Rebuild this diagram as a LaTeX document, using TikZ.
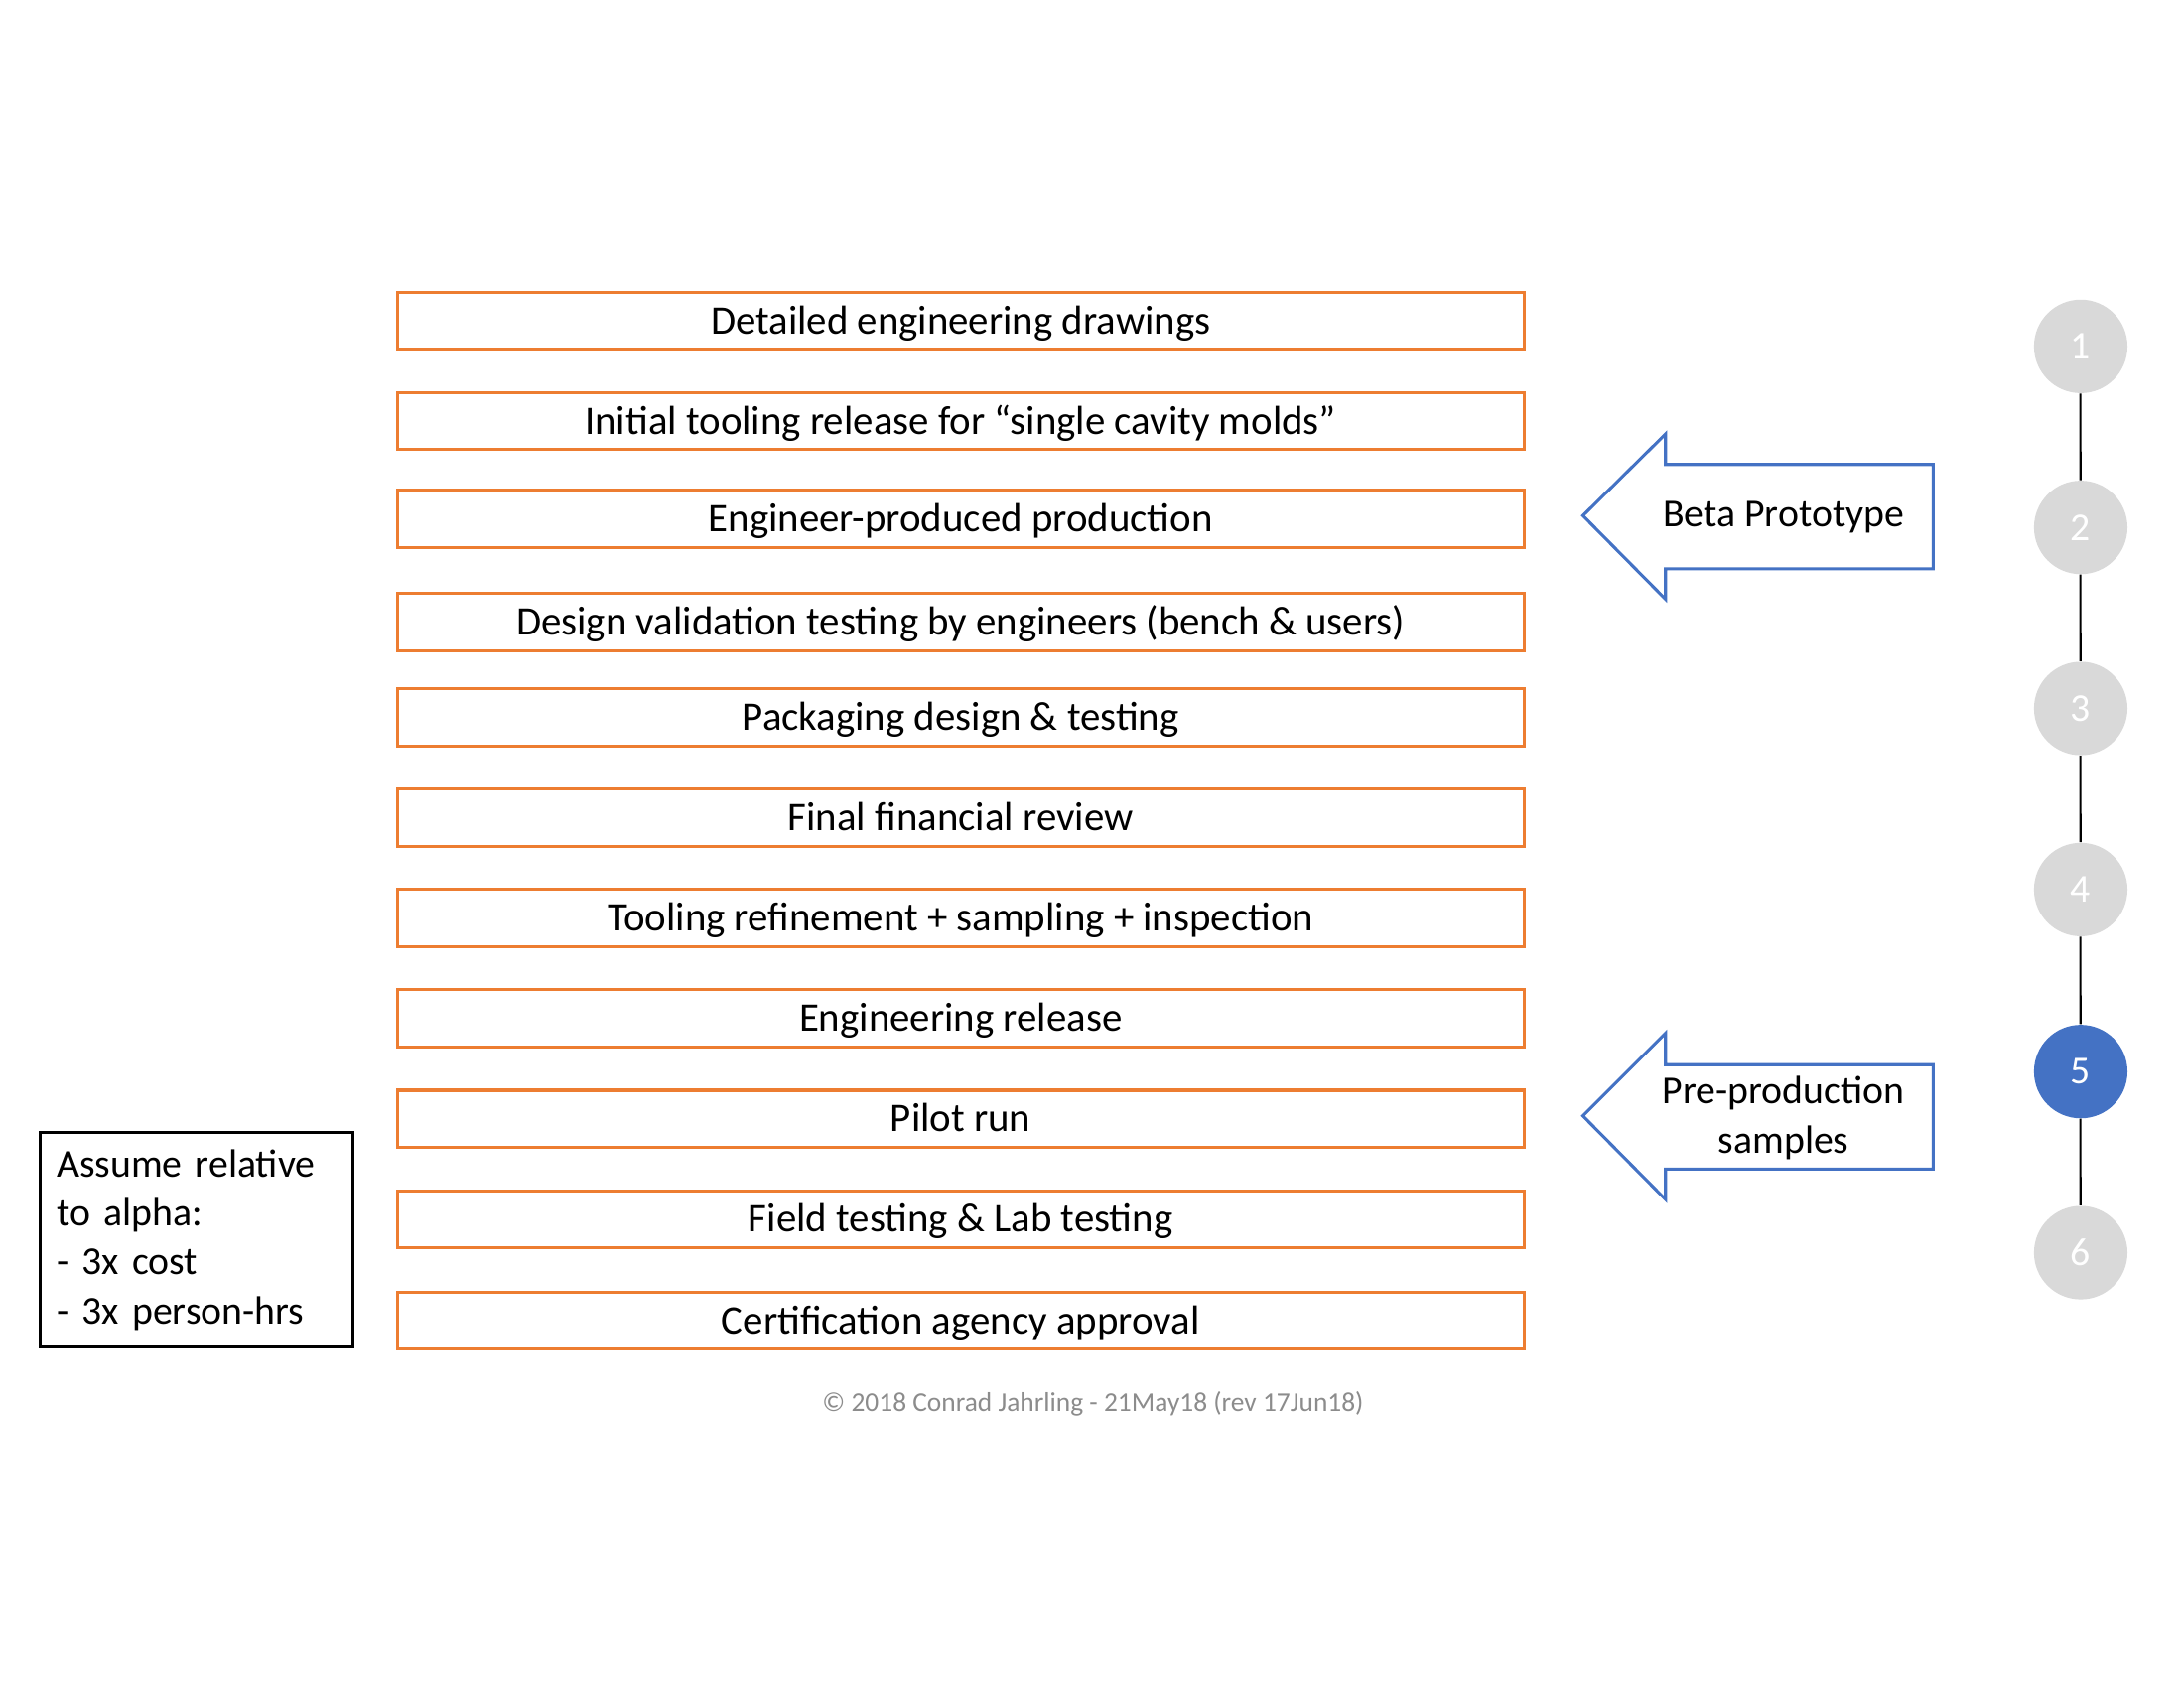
\documentclass[tikz,border=0pt]{standalone}
\usepackage{fontspec}
\setmainfont{Carlito}
\definecolor{offorange}{HTML}{ED7D31}
\definecolor{offblue}{HTML}{4472C4}
\definecolor{offgray}{HTML}{D9D9D9}
\definecolor{footgray}{HTML}{8C8C8C}
\begin{document}
\begin{tikzpicture}[x=0.36bp,y=-0.36bp,
  stepbox/.style={draw=offorange,line width=1.1bp,minimum width=412.2bp,minimum height=20.9bp,inner sep=0pt,font=\fontsize{14.9}{17.5}\selectfont,text height=10.5bp,text depth=1bp},
  notebox/.style={draw=black,line width=1.1bp,minimum width=114.5bp,minimum height=78.5bp,text width=102.5bp,inner xsep=6bp,align=left,font=\fontsize{14.5}{18}\selectfont},
  arrowshape/.style={draw=offblue,line width=1.1bp,fill=white},
  arrowtext/.style={font=\fontsize{14.5}{18}\selectfont,align=center},
  stage/.style={circle,fill=offgray,minimum size=34.2bp,inner sep=0pt,text=white,font=\fontsize{14.5}{17}\selectfont},
  current/.style={stage,fill=offblue},
  link/.style={draw=black,line width=0.75bp}]
\useasboundingbox[fill=white] (0,0) rectangle (2200,1700);
\begin{scope}[scale=0.991,transform shape]
% steps
\node[stepbox] (s1)  at (976.5,326)  {Detailed engineering drawings};
\node[stepbox] (s2)  at (976.5,428)  {Initial tooling release for “single cavity molds”};
\node[stepbox] (s3)  at (976.5,527)  {Engineer-produced production};
\node[stepbox] (s4)  at (976.5,632)  {Design validation testing by engineers (bench \& users)};
\node[stepbox] (s5)  at (976.5,729)  {Packaging design \& testing};
\node[stepbox] (s6)  at (976.5,831)  {Final financial review};
\node[stepbox] (s7)  at (976.5,933)  {Tooling refinement + sampling + inspection};
\node[stepbox] (s8)  at (976.5,1035) {Engineering release};
\node[stepbox] (s9)  at (976.5,1137) {Pilot run};
\node[stepbox] (s10) at (976.5,1239) {Field testing \& Lab testing};
\node[stepbox] (s11) at (976.5,1342) {Certification agency approval};
% note
\node[notebox] (note) at (200,1260) {Assume relative\\to alpha:\\- 3x cost\\- 3x person-hrs};
% arrows
\draw[arrowshape] (1609,524) -- (1693,441) -- (1693,472) -- (1965,472) -- (1965,578) -- (1693,578) -- (1693,609) -- cycle;
\node[arrowtext] (beta) at (1813,526) {Beta Prototype};
\draw[arrowshape] (1609,1134) -- (1693,1050) -- (1693,1082) -- (1965,1082) -- (1965,1188) -- (1693,1188) -- (1693,1219) -- cycle;
\node[arrowtext] (pre) at (1813,1136) {Pre-production\\samples};
% stages
\node[stage] (c1) at (2115,352) {1};
\node[stage] (c2) at (2115,536) {2};
\node[stage] (c3) at (2115,720) {3};
\node[stage] (c4) at (2115,904) {4};
\node[current] (c5) at (2115,1089) {5};
\node[stage] (c6) at (2115,1273) {6};
\draw[link] (c1) -- (c2);
\draw[link] (c2) -- (c3);
\draw[link] (c3) -- (c4);
\draw[link] (c4) -- (c5);
\draw[link] (c5) -- (c6);
% footer
\node[text=footgray,font=\fontsize{10}{12}\selectfont] (foot) at (1111,1427) {© 2018 Conrad Jahrling - 21May18 (rev 17Jun18)};
\end{scope}
\end{tikzpicture}
\end{document}
